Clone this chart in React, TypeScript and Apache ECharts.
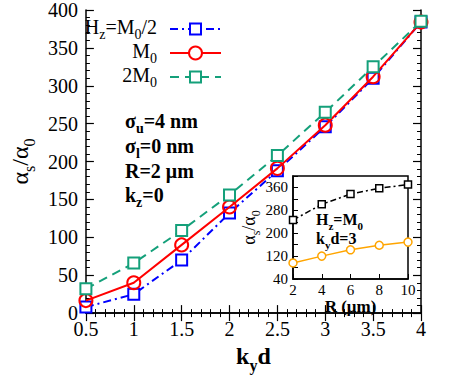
import React, { useEffect, useRef } from "react";
import * as echarts from "echarts";

const kyd = [0.5, 1, 1.5, 2, 2.5, 3, 3.5, 4];
const halfM0 = [8, 25, 70, 132, 188, 246, 310, 384];
const m0 = [16.5, 40, 90, 140, 191, 248, 312, 384];
const twoM0 = [32, 66, 109, 156, 208, 265, 325, 385];

const radius = [2, 4, 6, 8, 10];
const insetBlack = [246, 301, 337, 357, 370];
const insetOrange = [96, 120, 142, 158, 169];

const serif = "Liberation Serif";
const BLUE = "#0000ff";
const RED = "#ff0000";
const GREEN = "#14a07a";
const ORANGE = "#ffa500";

function rich(size: number, bold: boolean) {
  const fw = bold ? "bold" : "normal";
  return {
    b: {
      fontSize: size,
      fontFamily: serif,
      fontWeight: fw,
      color: "#000",
      verticalAlign: "bottom",
      padding: [0, 0, Math.round(size * 0.22), 0],
    },
    s: {
      fontSize: Math.round(size * 0.68),
      fontFamily: serif,
      fontWeight: fw,
      color: "#000",
      verticalAlign: "bottom",
    },
  };
}

function pairs(xs: number[], ys: number[]) {
  return xs.map((x, i) => [x, ys[i]]);
}

export default function App() {
  const ref = useRef<HTMLDivElement>(null);
  useEffect(() => {
    if (!ref.current) return;
    const chart = echarts.init(ref.current, undefined, { renderer: "svg" });
    const axisLine = { show: true, lineStyle: { color: "#000", width: 1.5 } };
    const mainLabel = { fontFamily: serif, fontSize: 20, color: "#000" };
    const textEl = (x: number, y: number, text: string, size: number, bold: boolean, align: string) => ({
      type: "text",
      x,
      y,
      z: 100,
      style: {
        text,
        rich: rich(size, bold),
        fontFamily: serif,
        align,
        textAlign: align,
        verticalAlign: "middle",
        textVerticalAlign: "middle",
      },
    });
    const legendRow = (y: number, color: string, dash: any, marker: string, label: string) => {
      const els: any[] = [
        textEl(157, y, label, 20, false, "right"),
        {
          type: "line",
          shape: { x1: 170, y1: y, x2: 221, y2: y },
          style: { stroke: color, lineWidth: 2, lineDash: dash },
        },
      ];
      if (marker === "rect") {
        els.push({
          type: "rect",
          shape: { x: 190, y: y - 5.5, width: 11, height: 11 },
          style: { fill: "#fff", stroke: color, lineWidth: 2 },
        });
      } else {
        els.push({
          type: "circle",
          shape: { cx: 195.5, cy: y, r: 6.5 },
          style: { fill: "#fff", stroke: color, lineWidth: 2 },
        });
      }
      return els;
    };

    chart.setOption({
      animation: false,
      textStyle: { fontFamily: serif },
      grid: [
        { left: 77, right: 42, top: 8, bottom: 61 },
        {
          left: 293,
          right: 55,
          top: 176,
          bottom: 99,
          show: true,
          backgroundColor: "#fff",
          borderColor: "#000",
          borderWidth: 1.5,
          z: 10,
        },
      ],
      xAxis: [
        {
          type: "value",
          gridIndex: 0,
          min: 0.5,
          max: 4,
          interval: 0.5,
          axisLine,
          axisTick: { inside: true, length: 8, lineStyle: { color: "#000", width: 1.2 } },
          minorTick: { show: true, splitNumber: 5, length: 4, lineStyle: { color: "#000", width: 1 } },
          axisLabel: { ...mainLabel, margin: 6 },
          splitLine: { show: false },
          name: "{b|k}{s|y}{b|d}",
          nameLocation: "middle",
          nameGap: 25,
          nameTextStyle: { fontFamily: serif, rich: rich(24, true) },
        },
        {
          type: "value",
          gridIndex: 0,
          position: "top",
          min: 0.5,
          max: 4,
          interval: 0.5,
          axisLine,
          axisTick: { inside: true, length: 8, lineStyle: { color: "#000", width: 1.2 } },
          minorTick: { show: true, splitNumber: 5, length: 4, lineStyle: { color: "#000", width: 1 } },
          axisLabel: { show: false },
          splitLine: { show: false },
        },
        {
          type: "value",
          gridIndex: 1,
          min: 2,
          max: 10,
          interval: 2,
          axisLine,
          axisTick: { inside: true, length: 5, lineStyle: { color: "#000", width: 1 } },
          axisLabel: { fontFamily: serif, fontSize: 15, color: "#000", margin: 3 },
          splitLine: { show: false },
          name: "R (μm)",
          nameLocation: "middle",
          nameGap: 18,
          nameTextStyle: { fontFamily: serif, fontSize: 17, fontWeight: "bold", color: "#000" },
          z: 11,
        },
      ],
      yAxis: [
        {
          type: "value",
          gridIndex: 0,
          min: 0,
          max: 400,
          interval: 50,
          axisLine,
          axisTick: { inside: true, length: 8, lineStyle: { color: "#000", width: 1.2 } },
          minorTick: { show: true, splitNumber: 5, length: 4, lineStyle: { color: "#000", width: 1 } },
          axisLabel: { ...mainLabel, margin: 8 },
          splitLine: { show: false },
          name: "{b|α}{s|s}{b|/α}{s|0}",
          nameLocation: "middle",
          nameGap: 33,
          nameRotate: 90,
          nameTextStyle: { fontFamily: serif, rich: rich(24, false) },
        },
        {
          type: "value",
          gridIndex: 0,
          position: "right",
          min: 0,
          max: 400,
          interval: 50,
          axisLine,
          axisTick: { inside: true, length: 8, lineStyle: { color: "#000", width: 1.2 } },
          minorTick: { show: true, splitNumber: 5, length: 4, lineStyle: { color: "#000", width: 1 } },
          axisLabel: { show: false },
          splitLine: { show: false },
        },
        {
          type: "value",
          gridIndex: 1,
          min: 40,
          max: 400,
          interval: 40,
          axisLine,
          axisTick: { inside: true, length: 5, lineStyle: { color: "#000", width: 1 } },
          axisLabel: {
            fontFamily: serif,
            fontSize: 15,
            color: "#000",
            margin: 5,
            formatter: (v: number) => ((v - 40) % 80 === 0 && v < 400 ? String(v) : ""),
          },
          splitLine: { show: false },
          name: "{b|α}{s|s}{b|/α}{s|0}",
          nameLocation: "middle",
          nameGap: 28,
          nameRotate: 90,
          nameTextStyle: { fontFamily: serif, rich: rich(18, false) },
          z: 11,
        },
      ],
      series: [
        {
          type: "line",
          xAxisIndex: 0,
          yAxisIndex: 0,
          data: pairs(kyd, halfM0),
          symbol: "rect",
          symbolSize: 11,
          itemStyle: { color: "#fff", borderColor: BLUE, borderWidth: 2 },
          lineStyle: { color: BLUE, width: 2, type: [8, 4, 2, 4] },
          z: 3,
        },
        {
          type: "line",
          xAxisIndex: 0,
          yAxisIndex: 0,
          data: pairs(kyd, m0),
          symbol: "circle",
          symbolSize: 13,
          itemStyle: { color: "rgba(255,255,255,0)", borderColor: RED, borderWidth: 2 },
          lineStyle: { color: RED, width: 2 },
          z: 4,
        },
        {
          type: "line",
          xAxisIndex: 0,
          yAxisIndex: 0,
          data: pairs(kyd, twoM0),
          symbol: "rect",
          symbolSize: 11,
          itemStyle: { color: "#fff", borderColor: GREEN, borderWidth: 2 },
          lineStyle: { color: GREEN, width: 2, type: [9, 6] },
          z: 5,
        },
        {
          type: "line",
          xAxisIndex: 2,
          yAxisIndex: 2,
          data: pairs(radius, insetBlack),
          symbol: "rect",
          symbolSize: 7,
          itemStyle: { color: "#fff", borderColor: "#000", borderWidth: 1.5 },
          lineStyle: { color: "#000", width: 1.5, type: [6, 3, 2, 3] },
          z: 12,
        },
        {
          type: "line",
          xAxisIndex: 2,
          yAxisIndex: 2,
          data: pairs(radius, insetOrange),
          symbol: "circle",
          symbolSize: 8,
          itemStyle: { color: "#fff", borderColor: ORANGE, borderWidth: 1.5 },
          lineStyle: { color: ORANGE, width: 1.5 },
          z: 12,
        },
      ],
      graphic: [
        ...legendRow(29, BLUE, [8, 4, 2, 4], "rect", "{b|H}{s|z}{b|=M}{s|0}{b|/2}"),
        ...legendRow(53, RED, null, "circle", "{b|M}{s|0}"),
        ...legendRow(77, GREEN, [9, 6], "rect", "{b|2M}{s|0}"),
        textEl(125, 123, "{b|σ}{s|u}{b|=4 nm}", 20, true, "left"),
        textEl(125, 148, "{b|σ}{s|l}{b|=0 nm}", 20, true, "left"),
        textEl(125, 173, "{b|R=2 μm}", 20, true, "left"),
        textEl(125, 197, "{b|k}{s|z}{b|=0}", 20, true, "left"),
        textEl(316, 221, "{b|H}{s|z}{b|=M}{s|0}", 16, true, "left"),
        textEl(316, 240, "{b|k}{s|y}{b|d=3}", 16, true, "left"),
      ],
    });
    return () => chart.dispose();
  }, []);
  return <div ref={ref} style={{ width: 463, height: 378, position: "absolute", left: 0, top: 0 }} />;
}
